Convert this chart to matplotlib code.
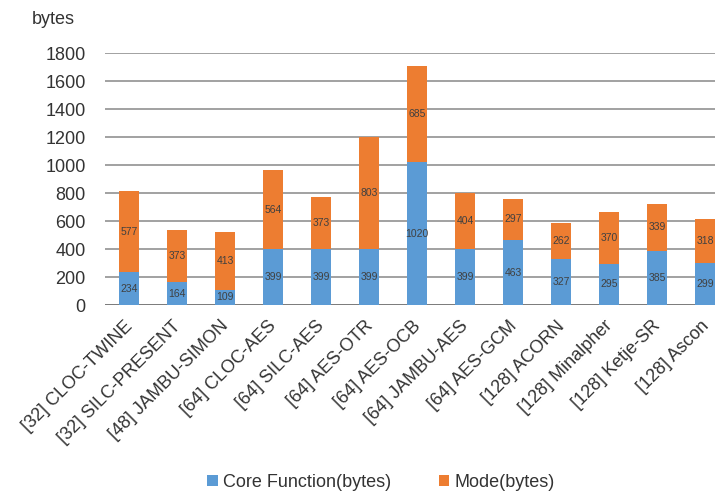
import numpy as np
import matplotlib
matplotlib.use("Agg")
import matplotlib.pyplot as plt
import matplotlib.transforms as mtransforms

plt.rcParams['font.family'] = ['Liberation Sans', 'DejaVu Sans']

# Données
schemes = ["[32] CLOC-TWINE", "[32] SILC-PRESENT", "[48] JAMBU-SIMON",
           "[64] CLOC-AES", "[64] SILC-AES", "[64] AES-OTR", "[64] AES-OCB",
           "[64] JAMBU-AES", "[64] AES-GCM", "[128] ACORN", "[128] Minalpher",
           "[128] Ketje-SR", "[128] Ascon"]
core_bytes = [234, 164, 109, 399, 399, 399, 1020, 399, 463, 327, 295, 385, 299]
mode_bytes = [577, 373, 413, 564, 373, 803, 685, 404, 297, 262, 370, 339, 318]
y_ticks = [0, 200, 400, 600, 800, 1000, 1200, 1400, 1600, 1800]

blue = '#5B9BD5'
orange = '#ED7D31'

fig = plt.figure(figsize=(7.15, 4.91), dpi=100)
ax = fig.add_axes([0.1469, 0.3788, 0.8727, 0.5132])

x = np.arange(len(schemes))
core = np.array(core_bytes)
mode = np.array(mode_bytes)

# Grille horizontale
for t in y_ticks:
    ax.axhline(t, color='#9a9a9a' if t > 0 else '#707070', lw=1.3, zorder=0)

b1 = ax.bar(x, core, width=0.4, color=blue, label='Core Function(bytes)', zorder=2)
b2 = ax.bar(x, mode, width=0.4, bottom=core, color=orange, label='Mode(bytes)', zorder=2)

# Valeurs au milieu des segments
for xi, c, m in zip(x, core, mode):
    ax.text(xi, c / 2, str(c), ha='center', va='center', fontsize=7.5, color='#404040', zorder=3)
    ax.text(xi, c + m / 2, str(m), ha='center', va='center', fontsize=7.5, color='#404040', zorder=3)

ax.set_xlim(-0.5, len(schemes) - 0.5)
ax.set_ylim(0, 1800)
ax.set_yticks(y_ticks)
ax.tick_params(axis='y', length=0, labelsize=13, pad=14, labelcolor='#333333')
ax.set_xticks(x)
ax.set_xticklabels(schemes, rotation=45, ha='right', rotation_mode='anchor',
                   fontsize=13, color='#333333')
ax.tick_params(axis='x', length=0, pad=9)
# petit décalage vers la gauche pour que le dernier label tienne dans l'image
decalage = mtransforms.ScaledTranslation(-5 / 100, 0, fig.dpi_scale_trans)
for lab in ax.get_xticklabels():
    lab.set_transform(lab.get_transform() + decalage)
for s in ax.spines.values():
    s.set_visible(False)

fig.text(0.045, 0.96, 'bytes', fontsize=13, color='#333333', va='center', ha='left')

fig.legend(handles=[b1, b2], loc='center', bbox_to_anchor=(0.533, 0.018),
           ncol=2, frameon=False, fontsize=13, handlelength=0.6, handleheight=0.6,
           columnspacing=2.6, handletextpad=0.3, labelcolor='#333333')

fig.savefig('out.png', dpi=100)
